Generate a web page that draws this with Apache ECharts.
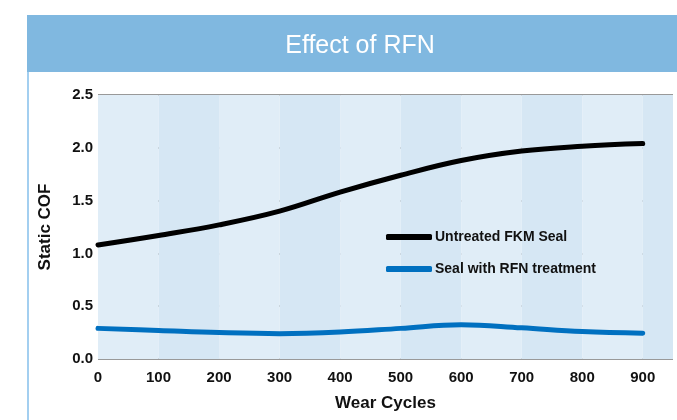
<!DOCTYPE html>
<html>
<head>
<meta charset="utf-8">
<script src="https://cdn.jsdelivr.net/npm/echarts@6/dist/echarts.min.js"></script>
<style>
  html, body { margin: 0; padding: 0; background: #fff; }
  #chart { width: 677px; height: 420px; }
</style>
</head>
<body>
<div id="chart"></div>
<script>
// wear cycles on the x axis
const cycles = [0, 100, 200, 300, 400, 500, 600, 700, 800, 900];
const untreated = [1.08, 1.17, 1.27, 1.40, 1.58, 1.74, 1.88, 1.97, 2.015, 2.04];
const treated = [0.29, 0.27, 0.25, 0.24, 0.255, 0.29, 0.325, 0.295, 0.26, 0.245];
const seriesNames = ['Untreated FKM Seal', 'Seal with RFN treatment'];

const font = "'Liberation Sans Narrow', 'Liberation Sans', Arial, sans-serif";

const pairs = (ys) => cycles.map((x, i) => [x, ys[i]]);

const chart = echarts.init(document.getElementById('chart'));
chart.setOption({
  backgroundColor: '#fff',
  animation: false,
  graphic: [
    { type: 'rect', shape: { x: 27, y: 15, width: 650, height: 57 }, style: { fill: '#80b8e0' }, z: 0 },
    { type: 'rect', shape: { x: 27, y: 72, width: 2, height: 348 }, style: { fill: '#a3cff0' }, z: 0 }
  ],
  title: {
    text: 'Effect of RFN',
    left: 355,
    top: 29,
    textAlign: 'center',
    textStyle: { color: '#fff', fontSize: 25, fontWeight: 'normal', fontFamily: font }
  },
  grid: { left: 98, right: 4, top: 95, bottom: 61 },
  legend: {
    orient: 'vertical',
    left: 381,
    top: 225,
    itemGap: 18,
    itemWidth: 46,
    itemHeight: 6,
    icon: 'roundRect',
    data: seriesNames,
    textStyle: { color: '#111', fontSize: 14, fontWeight: 'bold', fontFamily: font, padding: [0, 0, 0, -2] }
  },
  xAxis: {
    type: 'value',
    min: 0,
    max: 950,
    interval: 100,
    name: 'Wear Cycles',
    nameLocation: 'middle',
    nameGap: 36,
    nameTextStyle: { color: '#111', fontSize: 17, fontWeight: 'bold', fontFamily: font },
    axisLine: { show: false },
    axisTick: { show: false },
    axisLabel: {
      color: '#111', fontSize: 15, fontWeight: 'bold', fontFamily: font, margin: 11,
      showMaxLabel: false
    },
    splitLine: { show: false },
    splitArea: { show: true, areaStyle: { color: ['#e0edf7', '#d6e7f4'] } }
  },
  yAxis: {
    type: 'value',
    min: 0,
    max: 2.5,
    interval: 0.5,
    name: 'Static COF',
    nameLocation: 'middle',
    nameGap: 44,
    nameTextStyle: { color: '#111', fontSize: 17, fontWeight: 'bold', fontFamily: font },
    axisLine: { show: false },
    axisTick: { show: false },
    axisLabel: {
      color: '#111', fontSize: 15, fontWeight: 'bold', fontFamily: font, margin: 5,
      formatter: (v) => v.toFixed(1)
    },
    splitLine: { lineStyle: { color: '#999', width: 2 } }
  },
  series: [
    {
      name: seriesNames[0],
      type: 'line',
      data: pairs(untreated),
      smooth: 0.4,
      symbol: 'none',
      lineStyle: { color: '#000', width: 5, cap: 'round' },
      itemStyle: { color: '#000' },
      z: 3
    },
    {
      name: seriesNames[1],
      type: 'line',
      data: pairs(treated),
      smooth: 0.4,
      symbol: 'none',
      lineStyle: { color: '#0070c0', width: 5, cap: 'round' },
      itemStyle: { color: '#0070c0' },
      z: 3
    }
  ]
});
</script>
</body>
</html>
